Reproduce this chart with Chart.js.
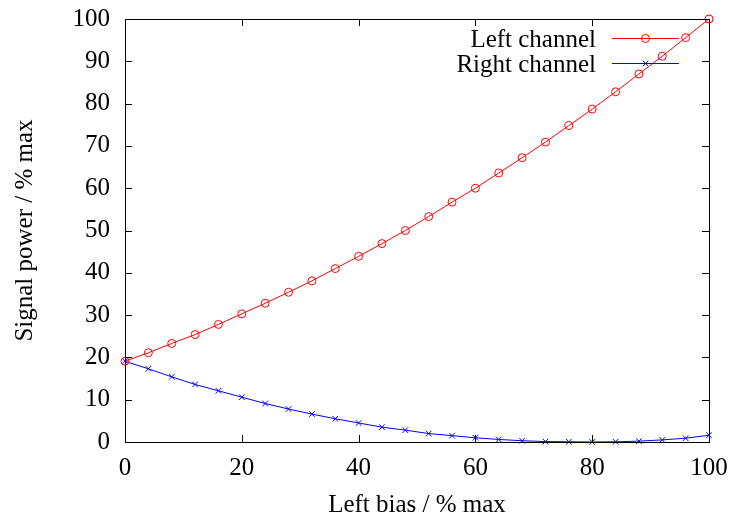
<!DOCTYPE html>
<html>
<head>
<meta charset="utf-8">
<script src="https://cdn.jsdelivr.net/npm/chart.js@4/dist/chart.umd.min.js"></script>
<style>
  html, body { margin: 0; padding: 0; background: #fff; }
  #wrap { width: 733px; height: 520px; }
</style>
</head>
<body>
<div id="wrap"><canvas id="powerChart" width="733" height="520"></canvas></div>
<script>
// left bias positions (% max)
const bias = [0, 4, 8, 12, 16, 20, 24, 28, 32, 36, 40, 44, 48, 52, 56, 60, 64, 68, 72, 76, 80, 84, 88, 92, 96, 100];

// signal power (% max)
const leftPower = [19.1, 21.1, 23.3, 25.4, 27.8, 30.3, 32.8, 35.4, 38.1, 41.0, 43.9, 46.9, 50.0,
                   53.3, 56.7, 60.0, 63.6, 67.2, 70.9, 74.8, 78.7, 82.8, 87.0, 91.2, 95.6, 100];
const rightPower = [19.1, 17.3, 15.4, 13.6, 12.1, 10.6, 9.1, 7.8, 6.6, 5.5, 4.5, 3.5, 2.8,
                    2.0, 1.5, 1.0, 0.6, 0.3, 0.1, 0.05, 0.0, 0.05, 0.2, 0.5, 0.9, 1.6];

const xTicks = [0, 20, 40, 60, 80, 100];
const yTicks = [0, 10, 20, 30, 40, 50, 60, 70, 80, 90, 100];

const seriesNames = ["Left channel", "Right channel"];
const colors = ["#ff0000", "#0000ff"];

const serif = "'Liberation Serif', 'Times New Roman', serif";
const fontSize = 25;

function toPoints(xs, ys) {
    return xs.map((x, i) => ({ x: x, y: ys[i] }));
}

// gnuplot-like frame with inward ticks on all four sides
const framePlugin = {
    id: 'frame',
    afterDatasetsDraw(chart) {
        const ctx = chart.ctx;
        const a = chart.chartArea;
        const xs = chart.scales.x, ys = chart.scales.y;
        const len = 7;
        ctx.save();
        ctx.strokeStyle = '#000';
        ctx.lineWidth = 1;
        ctx.strokeRect(a.left + 0.5, a.top + 0.5, a.right - a.left, a.bottom - a.top);
        ctx.beginPath();
        xTicks.forEach(v => {
            const px = Math.round(xs.getPixelForValue(v)) + 0.5;
            ctx.moveTo(px, a.bottom); ctx.lineTo(px, a.bottom - len);
            ctx.moveTo(px, a.top); ctx.lineTo(px, a.top + len);
        });
        yTicks.forEach(v => {
            const py = Math.round(ys.getPixelForValue(v)) + 0.5;
            ctx.moveTo(a.left, py); ctx.lineTo(a.left + len, py);
            ctx.moveTo(a.right, py); ctx.lineTo(a.right - len, py);
        });
        ctx.stroke();
        ctx.restore();
    }
};

// legend: text on the left, line sample with marker on the right
const keyPlugin = {
    id: 'key',
    afterDraw(chart) {
        const ctx = chart.ctx;
        const textRight = 596, lineStart = 612, lineEnd = 679;
        const rowY = [38, 63];
        ctx.save();
        ctx.font = fontSize + "px " + serif;
        ctx.textAlign = 'right';
        ctx.textBaseline = 'alphabetic';
        chart.data.datasets.forEach((ds, i) => {
            const y = rowY[i] + 0.5;
            ctx.fillStyle = '#000';
            ctx.fillText(ds.label, textRight, rowY[i] + 8.5);
            ctx.strokeStyle = ds.borderColor;
            ctx.fillStyle = 'rgba(0,0,0,0)';
            ctx.lineWidth = 1;
            ctx.beginPath();
            ctx.moveTo(lineStart, y);
            ctx.lineTo(lineEnd, y);
            ctx.stroke();
            Chart.helpers.drawPoint(ctx, {
                pointStyle: ds.pointStyle,
                radius: ds.pointRadius,
                borderWidth: 1
            }, (lineStart + lineEnd) / 2, y);
        });
        ctx.restore();
    }
};

let ctx = document.getElementById("powerChart").getContext("2d");

new Chart(ctx, {
    type: 'line',
    data: {
        datasets: [{
            label: seriesNames[0],
            data: toPoints(bias, leftPower),
            borderColor: colors[0],
            backgroundColor: 'rgba(0,0,0,0)',
            pointBorderColor: colors[0],
            pointBackgroundColor: 'rgba(0,0,0,0)',
            borderWidth: 1,
            pointRadius: 4,
            pointBorderWidth: 1,
            pointStyle: 'circle',
            tension: 0,
            clip: false
        },
        {
            label: seriesNames[1],
            data: toPoints(bias, rightPower),
            borderColor: colors[1],
            backgroundColor: 'rgba(0,0,0,0)',
            pointBorderColor: colors[1],
            pointBackgroundColor: colors[1],
            borderWidth: 1,
            pointRadius: 4,
            pointBorderWidth: 1,
            pointStyle: 'crossRot',
            tension: 0,
            clip: false
        }]
    },
    options: {
        responsive: false,
        animation: false,
        events: [],
        layout: { padding: { top: 19, right: 24, left: 0, bottom: 0 } },
        plugins: {
            legend: { display: false },
            tooltip: { enabled: false }
        },
        scales: {
            x: {
                type: 'linear',
                min: 0,
                max: 100,
                afterFit: scale => {
                    scale.height = 78;
                    scale.paddingLeft = 0;
                    scale.paddingRight = 0;
                },
                afterBuildTicks: scale => { scale.ticks = xTicks.map(v => ({ value: v })); },
                grid: { display: false, drawTicks: false },
                border: { display: false },
                ticks: { color: '#000', padding: 11, maxRotation: 0, font: { family: serif, size: fontSize } },
                title: {
                    display: true,
                    text: 'Left bias / % max',
                    color: '#000',
                    font: { family: serif, size: fontSize },
                    padding: { top: 0, bottom: 0 }
                }
            },
            y: {
                type: 'linear',
                min: 0,
                max: 100,
                afterFit: scale => {
                    scale.width = 125;
                    scale.paddingTop = 0;
                    scale.paddingBottom = 0;
                },
                afterBuildTicks: scale => { scale.ticks = yTicks.map(v => ({ value: v })); },
                grid: { display: false, drawTicks: false },
                border: { display: false },
                ticks: { color: '#000', padding: 15, font: { family: serif, size: fontSize } },
                title: {
                    display: true,
                    text: 'Signal power / % max',
                    color: '#000',
                    font: { family: serif, size: fontSize },
                    padding: { top: 10, bottom: 0 }
                }
            }
        }
    },
    plugins: [framePlugin, keyPlugin]
});
</script>
</body>
</html>
